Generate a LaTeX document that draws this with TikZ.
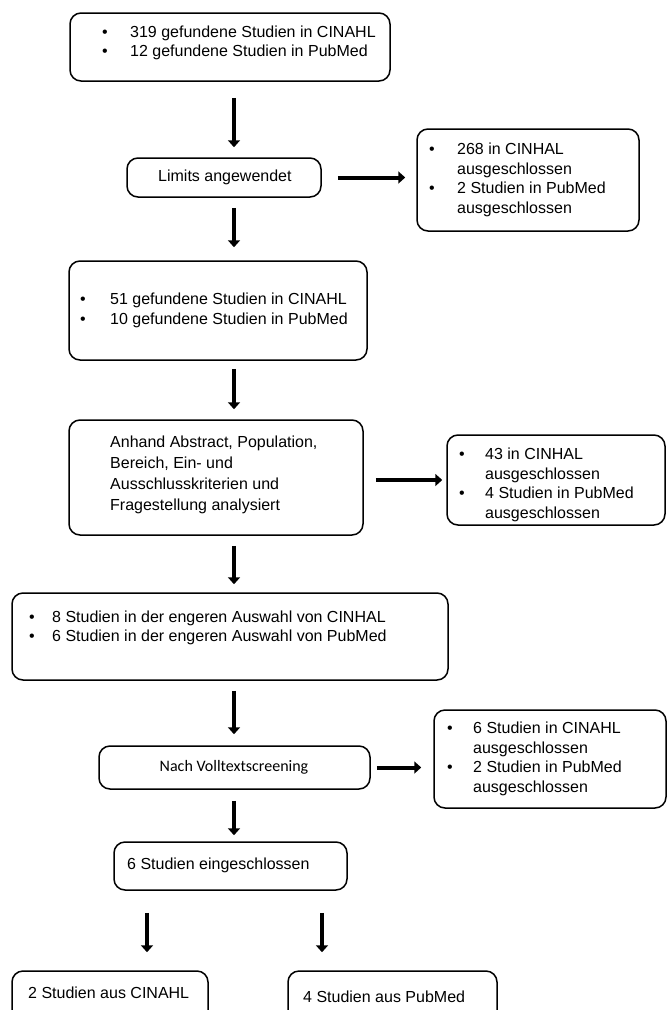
\documentclass[tikz,border=0pt]{standalone}
\usepackage{fontspec}
\setmainfont{Liberation Sans}
\newfontfamily\calfont{Carlito}
\usetikzlibrary{arrows.meta}
\newcommand\bitem[1]{\makebox[#1pt][l]{\textbullet}}
\begin{document}
\begin{tikzpicture}[x=1pt,y=-1pt,
  box/.style={draw, line width=1.5pt, rounded corners=11pt, inner sep=0pt},
  txt/.style={anchor=west, inner sep=0pt, align=left, font=\fontsize{16}{19.5}\selectfont},
  arr/.style={line width=4pt, -{Triangle[length=7pt,width=12pt]}}]
\clip (0,0) rectangle (670,1010);
\fill[white] (0,0) rectangle (670,1010);
% boxes
\node[box, minimum width=320pt, minimum height=68pt] (b1) at (230,47) {};
\node[box, minimum width=194pt, minimum height=39pt] (lim) at (224,177.5) {};
\node[box, minimum width=222pt, minimum height=102pt] (r1) at (528,180) {};
\node[box, minimum width=298pt, minimum height=99pt] (b3) at (218,310.5) {};
\node[box, minimum width=294pt, minimum height=115pt] (b4) at (216,477.5) {};
\node[box, minimum width=218pt, minimum height=90pt] (r2) at (556,480) {};
\node[box, minimum width=436pt, minimum height=87pt] (b5) at (230,636.5) {};
\node[box, minimum width=271pt, minimum height=43pt] (nach) at (234.5,767.5) {};
\node[box, minimum width=232pt, minimum height=98pt] (r3) at (550,759) {};
\node[box, minimum width=233pt, minimum height=48pt] (b6) at (230.5,866) {};
\node[box, minimum width=196pt, minimum height=69pt] (b7) at (110,1005.5) {};
\node[box, minimum width=209pt, minimum height=69pt] (b8) at (392.5,1005.5) {};
% texts
\node[txt] (t1) at (102,43) {\bitem{28}319 gefundene Studien in CINAHL\\\bitem{28}12 gefundene Studien in PubMed};
\node[txt] (tlim) at (158,177) {Limits angewendet};
\node[txt] (tr1) at (429,180) {\bitem{28}268 in CINHAL\\\hspace*{28pt}ausgeschlossen\\\bitem{28}2 Studien in PubMed\\\hspace*{28pt}ausgeschlossen};
\node[txt] (t3) at (80,310.5) {\bitem{30}51 gefundene Studien in CINAHL\\\bitem{30}10 gefundene Studien in PubMed};
\node[txt, font=\fontsize{16}{21}\selectfont] (t4) at (110,475) {Anhand Abstract, Population,\\Bereich, Ein- und\\Ausschlusskriterien und\\Fragestellung analysiert};
\node[txt] (tr2) at (459,485) {\bitem{26}43 in CINHAL\\\hspace*{26pt}ausgeschlossen\\\bitem{26}4 Studien in PubMed\\\hspace*{26pt}ausgeschlossen};
\node[txt] (t5) at (29,628) {\bitem{23}8 Studien in der engeren Auswahl von CINHAL\\\bitem{23}6 Studien in der engeren Auswahl von PubMed};
\node[txt, anchor=center, font=\calfont\fontsize{16}{19.5}\selectfont] (tn) at (234,767) {Nach Volltextscreening};
\node[txt] (tr3) at (447,759) {\bitem{26}6 Studien in CINAHL\\\hspace*{26pt}ausgeschlossen\\\bitem{26}2 Studien in PubMed\\\hspace*{26pt}ausgeschlossen};
\node[txt] (t6) at (127,865) {6 Studien eingeschlossen};
\node[txt] (t7) at (28,993) {2 Studien aus CINAHL};
\node[txt] (t8) at (303,997) {4 Studien aus PubMed};
% connectors
\coordinate (ax) at (234,0);
\coordinate (a7) at (147,0);
\coordinate (a8) at (322,0);
\draw[arr, shorten <=16pt, shorten >=10pt] (b1.south -| ax) -- (lim.north -| ax);
\draw[arr, shorten <=10pt, shorten >=13pt] (lim.south -| ax) -- (b3.north -| ax);
\draw[arr, shorten <=8pt, shorten >=10pt] (b3.south -| ax) -- (b4.north -| ax);
\draw[arr, shorten <=10pt, shorten >=8pt] (b4.south -| ax) -- (b5.north -| ax);
\draw[arr, shorten <=10pt, shorten >=11pt] (b5.south -| ax) -- (nach.north -| ax);
\draw[arr, shorten <=11pt, shorten >=6pt] (nach.south -| ax) -- (b6.north -| ax);
\draw[arr, shorten <=22pt, shorten >=18pt] (b6.south -| a7) -- (b7.north -| a7);
\draw[arr, shorten <=22pt, shorten >=18pt] (b6.south -| a8) -- (b8.north -| a8);
\draw[arr, shorten <=16pt, shorten >=11pt] (lim.east) -- (lim.east -| r1.west);
\draw[arr, shorten <=12pt, shorten >=4pt] (r2.west -| b4.east) -- (r2.west);
\draw[arr, shorten <=6pt, shorten >=12pt] (nach.east) -- (nach.east -| r3.west);
\end{tikzpicture}
\end{document}
